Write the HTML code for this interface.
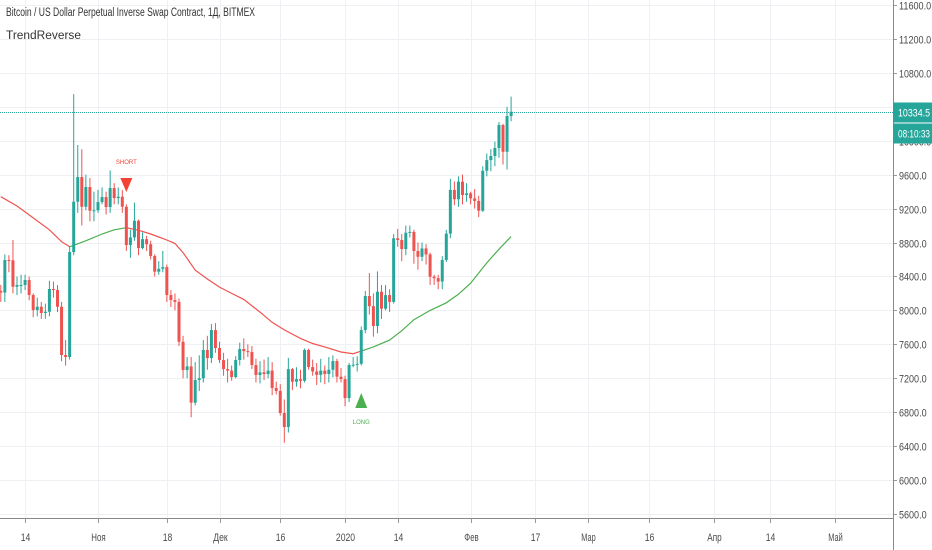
<!DOCTYPE html>
<html><head><meta charset="utf-8"><style>
body{margin:0;background:#fff;width:932px;height:550px;overflow:hidden;font-family:"Liberation Sans",sans-serif}
svg{display:block}
</style></head><body>
<svg id="chart" width="932" height="550" viewBox="0 0 932 550" xmlns="http://www.w3.org/2000/svg">
<g id="grid"></g>
<g id="ma"></g>
<g id="candles"></g>
<g id="axes"></g>
<text x="6" y="16" font-size="11.5" fill="#333" textLength="249" lengthAdjust="spacingAndGlyphs">Bitcoin / US Dollar Perpetual Inverse Swap Contract, 1Д, BITMEX</text>
<text x="6" y="39" font-size="11.5" fill="#333" textLength="75" lengthAdjust="spacingAndGlyphs">TrendReverse</text>
</svg>
<script>
const closes=[8210,8594,8590,8279,8299,8300,8358,8181,8004,8043,7969,7984,8252,8240,8043,7474,7450,8688,9281,9572,
9222,9454,9175,9180,9277,9336,9218,9442,9324,9340,
9222,8770,8860,9057,8735,8840,8780,8641,8456,8490,
8510,8181,8122,8100,7630,7297,7340,6912,7179,7200,
7533,7438,7768,7556,7415,7308,7290,7214,7415,7545,
7520,7510,7356,7238,7270,7250,7290,7085,7050,6790,
6625,7308,7159,7190,7170,7533,7332,7280,7240,7290,
7250,7300,7403,7218,7190,6966,7356,7360,7370,7768,
8169,8050,7816,8220,8020,8180,8100,8850,8830,8723,
8915,8925,8700,8632,8730,8660,8397,8380,8340,8594,
8905,9420,9310,9517,9360,9380,9320,9290,9175,9646,
9772,9820,9914,10185,9870,10291,10342];
const firstOpen=8230;
const highs=[8300,8660,8650,8830,8400,8420,8420,8400,8200,8150,8100,8080,8350,8340,8300,8100,7650,8750,10550,9950,
9900,9600,9560,9400,9420,9450,9400,9650,9500,9450,
9420,9250,8950,9270,9070,8920,8880,8820,8660,8580,
8700,8540,8240,8200,8140,7700,7450,7450,7390,7470,
7650,7700,7840,7850,7630,7500,7430,7350,7460,7620,
7670,7600,7580,7430,7400,7420,7450,7390,7160,7130,
6950,7440,7320,7330,7300,7550,7550,7420,7380,7430,
7350,7450,7470,7430,7320,7230,7380,7450,7460,7810,
8230,8440,8200,8460,8300,8300,8250,8900,8960,8900,
9000,9000,8950,8800,8800,8780,8680,8420,8420,8640,
8950,9550,9520,9580,9600,9500,9400,9430,9350,9700,
9850,9900,9990,10220,10200,10400,10520];
const lows=[8100,8100,8450,8200,8180,8200,8240,8120,7920,7930,7900,7900,7930,8150,7980,7400,7350,7420,8650,9150,
9000,9180,9050,9050,9150,9250,9130,9150,9250,9250,
9150,8700,8620,8820,8650,8720,8700,8600,8400,8420,
8450,8100,8040,8000,7580,7200,7200,6740,6880,7050,
7150,7300,7380,7500,7380,7230,7150,7170,7200,7350,
7420,7450,7310,7150,7140,7180,7200,7000,7010,6760,
6440,6560,7060,7100,7080,7150,7300,7230,7120,7150,
7130,7150,7210,7150,7150,6870,6920,7330,7280,7350,
7730,7950,7690,7730,7900,8000,7980,8080,8750,8580,
8650,8860,8550,8480,8580,8540,8300,8300,8250,8250,
8570,8850,9240,9220,9250,9280,9250,9200,9100,9160,
9580,9640,9700,9800,9720,9660,10230];
const maDays=[0,4,8,12,15,17,21,25,28,31,34,37,39,41,43,45,48,51,54,57,60,64,67,70,74,77,80,84,87,89,92,96,99,102,106,110,113,116,120,123,126];
const maValues=[9340,9230,9090,8950,8810,8750,8820,8900,8950,8975,8945,8900,8865,8830,8790,8680,8475,8370,8275,8200,8130,7980,7860,7770,7670,7610,7570,7510,7490,7520,7570,7650,7760,7890,8000,8090,8190,8320,8560,8720,8870];
const maSegmentEnds=[17,31,89,126];
const maSegmentTrend=["down","up","down","up"];
const priceTicks=[5600,6000,6400,6800,7200,7600,8000,8400,8800,9200,9600,10000,10400,10800,11200,11600];
const timeTickLabels=["14","Ноя","18","Дек","16","2020","14","Фев","17","Мар","16","Апр","14","Май"];
const timeTickDays=[6,24,41,54,69,85,98,116,132,145,160,176,190,206];
const lastPrice=10334.5;
const shortDay=31, shortPrice=9560, longDay=89, longPrice=6850;

const NS="http://www.w3.org/2000/svg";
const yOf=p=>5+(11600-p)*0.08483;
const xOf=d=>98+(d-24)*4.05;
const UP="#26a69a",DN="#ef5350";
function mk(tag,attrs,parent){const e=document.createElementNS(NS,tag);for(const k in attrs)e.setAttribute(k,attrs[k]);parent.appendChild(e);return e;}
const grid=document.getElementById('grid'),axes=document.getElementById('axes'),cg=document.getElementById('candles'),mg=document.getElementById('ma');

priceTicks.forEach(p=>{const y=Math.round(yOf(p))+0.5;
 const l=mk('line',{x1:0,x2:893,y1:y,y2:y,stroke:'#eef0f3','stroke-width':1},grid);
 
 const t=mk('line',{x1:893,x2:897,y1:y,y2:y,stroke:'#999'},axes);
 
 const s=p.toFixed(1);
 const tx=mk('text',{x:899,y:y+4,'font-size':11,fill:'#4a4a4a',textLength:s.length*4.6,lengthAdjust:'spacingAndGlyphs'},axes);tx.textContent=s;
 
});
timeTickDays.forEach((d,i)=>{const x=Math.round(xOf(d))+0.5;
 const l=mk('line',{x1:x,x2:x,y1:0,y2:518,stroke:'#eef0f3'},grid);
 
 const t=mk('line',{x1:x,x2:x,y1:518,y2:523,stroke:'#999'},axes);
 
 const s=timeTickLabels[i];
 const tx=mk('text',{x:x-s.length*2.4,y:541,'font-size':11,fill:'#4a4a4a',textLength:s.length*4.8,lengthAdjust:'spacingAndGlyphs'},axes);tx.textContent=s;
 
});
let al=mk('line',{x1:893.5,x2:893.5,y1:0,y2:550,stroke:'#8a8a8a'},axes);

al=mk('line',{x1:0,x2:893,y1:518.5,y2:518.5,stroke:'#8a8a8a'},axes);


let start=0;
maSegmentEnds.forEach((end,s)=>{const pts=[];
 maDays.forEach((d,i)=>{if(d>=start&&d<=end)pts.push(xOf(d).toFixed(1)+','+yOf(maValues[i]).toFixed(1));});
 const pl=mk('polyline',{points:pts.join(' '),fill:'none',stroke:maSegmentTrend[s]==='up'?'#4caf50':'#ef5350','stroke-width':1.2},mg);
 
 start=end;});

closes.forEach((c,i)=>{const o=i?closes[i-1]:firstOpen;const x=xOf(i);const col=c>=o?UP:DN;
 const w=mk('line',{x1:x,x2:x,y1:yOf(highs[i]),y2:yOf(lows[i]),stroke:col,'stroke-width':1},cg);
 
 const yt=yOf(Math.max(o,c)),yb=yOf(Math.min(o,c));
 const b=mk('rect',{x:x-1.5,y:yt,width:3,height:Math.max(1,yb-yt),fill:col},cg);
 
});

const sx=xOf(shortDay),sy=yOf(shortPrice);
let e=mk('polygon',{points:`${sx-6},${sy} ${sx+6},${sy} ${sx},${sy+14}`,fill:'#f44336'},axes);

e=mk('text',{x:sx,y:sy-14,'font-size':6,fill:'#f44336','text-anchor':'middle'},axes);e.textContent='SHORT';

const lx=xOf(longDay),ly=yOf(longPrice);
e=mk('polygon',{points:`${lx-6},${ly} ${lx+6},${ly} ${lx},${ly-15}`,fill:'#4caf50'},axes);

e=mk('text',{x:lx,y:ly+16,'font-size':6,fill:'#4caf50','text-anchor':'middle'},axes);e.textContent='LONG';


const py=Math.round(yOf(lastPrice))+0.5;
e=mk('line',{x1:0,x2:893,y1:py,y2:py,stroke:UP,'stroke-dasharray':'1,1'},axes);

e=mk('rect',{x:893,y:py-10,width:39,height:20,fill:UP},axes);

e=mk('text',{x:898,y:py+4,'font-size':11,fill:'#fff',textLength:32,lengthAdjust:'spacingAndGlyphs'},axes);e.textContent=lastPrice.toFixed(1);

e=mk('rect',{x:893,y:py+11,width:39,height:20,fill:UP},axes);

e=mk('text',{x:898,y:py+25,'font-size':11,fill:'#fff',textLength:32,lengthAdjust:'spacingAndGlyphs'},axes);e.textContent='08:10:33';

</script>
</body></html>
